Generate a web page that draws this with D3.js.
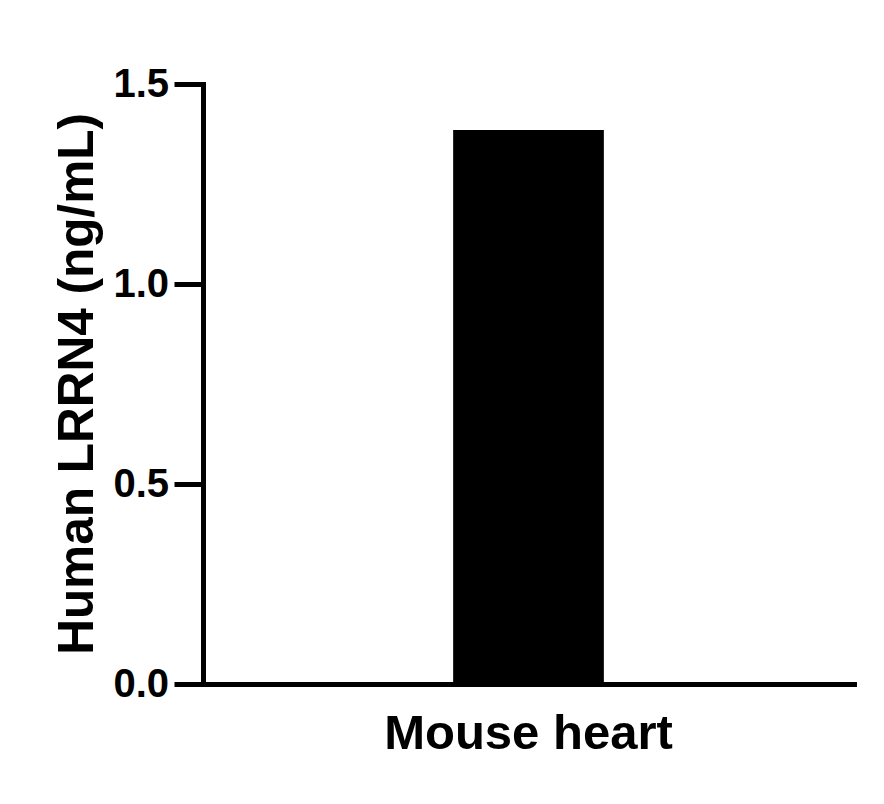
<!DOCTYPE html>
<html>
<head>
<meta charset="utf-8">
<script src="https://cdn.jsdelivr.net/npm/d3@7"></script>
<style>
  body { margin: 0; background: #fff; }
  text { font-family: "Liberation Sans", Arial, sans-serif; font-weight: bold; fill: #000; }
</style>
</head>
<body>
<div id="chart"></div>
<script>
var categories = ["Mouse heart"];
var values = [1.385];
var yTicks = [0, 0.5, 1.0, 1.5];
var yLabel = "Human LRRN4 (ng/mL)";

var W = 884, H = 804;
var margin = {top: 84, right: 30, bottom: 120, left: 203};
var width = W - margin.left - margin.right;
var height = H - margin.top - margin.bottom;

var svg = d3.select("#chart").append("svg")
	.attr("width", W)
	.attr("height", H);

var g = svg.append("g")
	.attr("transform", "translate(" + margin.left + "," + margin.top + ")");

var x = d3.scaleBand().domain(categories).range([0, width]).paddingInner(0).paddingOuter(1.66);
var y = d3.scaleLinear().domain([0, 1.5]).range([height, 0]);

// bars
g.selectAll(".bar").data(values).enter().append("rect")
	.attr("class", "bar")
	.attr("x", function(d, i) { return x(categories[i]); })
	.attr("width", x.bandwidth())
	.attr("y", function(d) { return y(d); })
	.attr("height", function(d) { return height - y(d); })
	.attr("fill", "#000");

var yAxis = d3.axisLeft(y)
	.tickValues(yTicks)
	.tickFormat(d3.format(".1f"))
	.tickSizeInner(26)
	.tickSizeOuter(0)
	.tickPadding(8);

var ya = g.append("g").attr("class", "y axis").call(yAxis);
ya.selectAll("text").style("font-size", "40px");

var xAxis = d3.axisBottom(x).tickSizeInner(0).tickSizeOuter(0).tickPadding(30);
var xa = g.append("g").attr("class", "x axis")
	.attr("transform", "translate(0," + height + ")")
	.call(xAxis);
xa.selectAll("text").style("font-size", "49px");

svg.selectAll(".axis path, .axis line")
	.attr("stroke", "#000")
	.attr("stroke-width", 5)
	.attr("stroke-linecap", "square");

// y label
svg.append("text")
	.attr("transform", "translate(93," + (margin.top + height / 2) + ") rotate(-90)")
	.attr("text-anchor", "middle")
	.style("font-size", "49.5px")
	.text(yLabel);
</script>
</body>
</html>
